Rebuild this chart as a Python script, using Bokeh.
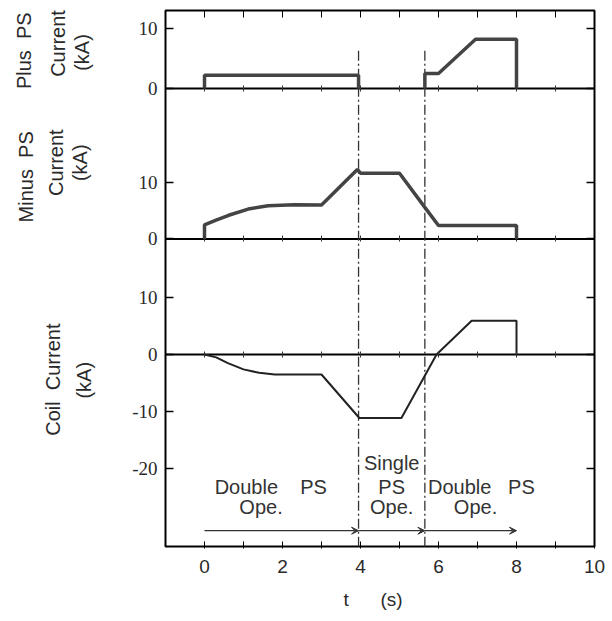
from bokeh.plotting import figure
from bokeh.models import (Range1d, LinearAxis, FixedTicker, Label, LabelSet, Arrow, Title,
                          VeeHead, ColumnDataSource)
from bokeh.embed import file_html
from bokeh.resources import INLINE

nan = float("nan")

# ---------------- data ----------------
t_plus = [0, 0, 3.95, 3.95, nan, 5.65, 5.65, 6.0, 6.95, 8.0, 8.0]
i_plus = [0, 2.2, 2.2, 0, nan, 0, 2.5, 2.5, 8.2, 8.2, 0]

t_minus = [0, 0, 0.28, 0.62, 1.12, 1.63, 2.3, 3.0, 3.92, 4.0, 5.0, 5.65, 6.0, 8.0, 8.0]
i_minus = [0, 2.5, 3.3, 4.2, 5.3, 5.9, 6.05, 6.0, 12.3, 11.65, 11.65, 5.6, 2.4, 2.4, 0]

t_coil = [0, 0.3, 0.6, 1.0, 1.4, 1.8, 3.0, 3.97, 5.05, 5.95, 6.85, 8.0, 8.0]
i_coil = [0, -0.5, -1.5, -2.6, -3.2, -3.5, -3.5, -11.1, -11.1, 0, 5.9, 5.9, 0]

mode_bounds = [3.95, 5.65]
mode_start = [0, 3.95, 5.65]
mode_end = [3.95, 5.65, 8.0]
NB = "\u00a0"
mode_lines = [["Double" + NB * 4 + "PS", "Ope."], ["Single", "PS", "Ope."],
              ["Double" + NB * 3 + "PS", "Ope."]]

x_ticks = [0, 2, 4, 6, 8, 10]
x_minor = [1, 3, 5, 7, 9]
plus_ticks = [0, 10]
minus_ticks = [0, 10]
coil_ticks = [-20, -10, 0, 10]

# ---------------- layout / style ----------------
FONT = "Liberation Sans"
TXT = "#2a2a2a"
x_lo, x_hi = -1, 10                  # visible box in t
PX = 429 / 11                        # px per second
BOX_L = 165                          # page x of the box's left edge
view_x = (x_lo - BOX_L / PX, x_hi + 16 / PX)
# y ranges over the full frame height (548 px) for each panel
ranges = {"plus": (-76.667, 14.667), "minus": (-54.779, 42.212), "default": (-33.916, 61.888)}
box_top, box_bottom = 60.14, -33.57          # coil units
plus_box_bottom = -76.33                      # plus units


def page_x(px):
    return x_lo + (px - BOX_L) / PX


p = figure(width=610, height=620, x_range=Range1d(*view_x),
           y_range=Range1d(*ranges["default"]),
           output_backend="svg", toolbar_location=None, y_axis_location=None,
           min_border_left=0, min_border_right=0, min_border_top=0,
           min_border_bottom=72)
p.extra_y_ranges = {"plus": Range1d(*ranges["plus"]), "minus": Range1d(*ranges["minus"])}
p.grid.visible = False
p.outline_line_color = None
p.background_fill_color = "white"
p.border_fill_color = "white"

# plot box
p.quad(left=[x_lo], right=[x_hi], top=[box_top], bottom=[box_bottom],
       fill_color=None, line_color="black", line_width=2)

# bottom axis
xa = p.xaxis[0]
xa.ticker = FixedTicker(ticks=x_ticks, minor_ticks=x_minor)
xa.major_tick_in = 7
xa.major_tick_out = 0
xa.minor_tick_in = 7
xa.minor_tick_out = 0
xa.axis_line_color = None
xa.major_label_text_font = FONT
xa.major_label_text_font_size = "19px"
xa.major_label_text_color = TXT
xa.major_label_standoff = 11
p.add_layout(Title(text="t" + NB * 6 + "(s)", align="left", offset=343, standoff=22,
                   text_font=FONT, text_font_style="normal", text_font_size="19px",
                   text_color=TXT), "below")

# top axis: tick marks only
int_ticks = x_ticks[:-1] + x_minor
top = LinearAxis(ticker=FixedTicker(ticks=[], minor_ticks=int_ticks),
                 fixed_location=box_top, axis_line_color=None,
                 major_tick_in=0, major_tick_out=0, minor_tick_in=7, minor_tick_out=0,
                 minor_tick_line_color="black")
p.add_layout(top, "above")

# left / right tick marks, tick labels, zero lines for each panel
for rng, ticks in (("plus", plus_ticks), ("minus", minus_ticks), ("default", coil_ticks)):
    for side, loc in (("left", x_lo), ("right", x_hi)):
        ax = LinearAxis(y_range_name=rng, ticker=FixedTicker(ticks=[], minor_ticks=ticks),
                        fixed_location=loc, axis_line_color=None,
                        major_tick_in=0, major_tick_out=0, minor_tick_in=8, minor_tick_out=0,
                        minor_tick_line_width=1.5, minor_tick_line_color="black")
        p.add_layout(ax, side)
    src = ColumnDataSource(dict(x=[x_lo] * len(ticks), y=ticks,
                                text=[str(t) for t in ticks]))
    p.add_layout(LabelSet(x="x", y="y", text="text", source=src, y_range_name=rng,
                          x_offset=-8, text_align="right", text_baseline="middle",
                          text_font=FONT, text_font_size="19px", text_color=TXT))
    p.segment(x0=[x_lo], y0=[0], x1=[x_hi], y1=[0], y_range_name=rng,
              line_color="black", line_width=2)
    # small time ticks on the zero line
    zax = LinearAxis(y_range_name=rng, ticker=FixedTicker(ticks=[], minor_ticks=int_ticks),
                     fixed_location=0, axis_line_color=None,
                     major_tick_in=0, major_tick_out=0, minor_tick_in=3, minor_tick_out=3,
                     minor_tick_line_width=1, minor_tick_line_color="#333333")
    p.add_layout(zax, "below")

# mode boundaries (dash-dot)
p.segment(x0=mode_bounds, y0=[6.3] * len(mode_bounds), x1=mode_bounds,
          y1=[plus_box_bottom] * len(mode_bounds), y_range_name="plus",
          line_color="#333333", line_width=1.3, line_dash="10 3 2 3")

# currents
p.line(t_plus, i_plus, y_range_name="plus", line_color="#444444", line_width=3.5)
p.line(t_minus, i_minus, y_range_name="minus", line_color="#444444", line_width=3.5)
p.line(t_coil, i_coil, line_color="#222222", line_width=2)

# operation arrows
arrow_y = -30.8
src = ColumnDataSource(dict(x0=mode_start, x1=mode_end, y=[arrow_y] * len(mode_start)))
p.add_layout(Arrow(end=VeeHead(size=7, line_color="#333333", line_width=1,
                               fill_color="#333333"),
                   x_start="x0", y_start="y", x_end="x1", y_end="y", source=src,
                   line_color="#333333", line_width=1.2))

# operation texts
text_x = [[1.7, 1.45], [4.8, 4.8, 4.8], [7.1, 6.95]]
text_y = {2: [-23.25, -26.6], 3: [-18.9, -23.25, -26.6]}
for lines, xs in zip(mode_lines, text_x):
    ys = text_y[len(lines)]
    for s, xx, yy in zip(lines, xs, ys):
        p.add_layout(Label(x=xx, y=yy, text=s, text_align="center", text_baseline="middle",
                           text_font=FONT, text_font_size="20px", text_color="#333333"))

# vertical axis titles
titles = [
    ("plus", [("Plus" + NB * 2 + "PS", 23, 6.3), ("Current", 57, 7.5), ("(kA)", 81, 6.0)]),
    ("minus", [("Minus" + NB * 2 + "PS", 25, 11.0), ("Current", 55, 13.5), ("(kA)", 79, 13.5)]),
    ("default", [("Coil" + NB * 2 + "Current", 52, -4.4), ("(kA)", 83, -4.5)]),
]
for rng, items in titles:
    for s, px, yy in items:
        p.add_layout(Label(x=page_x(px), y=yy, y_range_name=rng, text=s,
                           angle=90, angle_units="deg", text_align="center",
                           text_baseline="middle", text_font=FONT,
                           text_font_size="20px", text_color=TXT))

open("out.html", "w").write(file_html(p, INLINE))
